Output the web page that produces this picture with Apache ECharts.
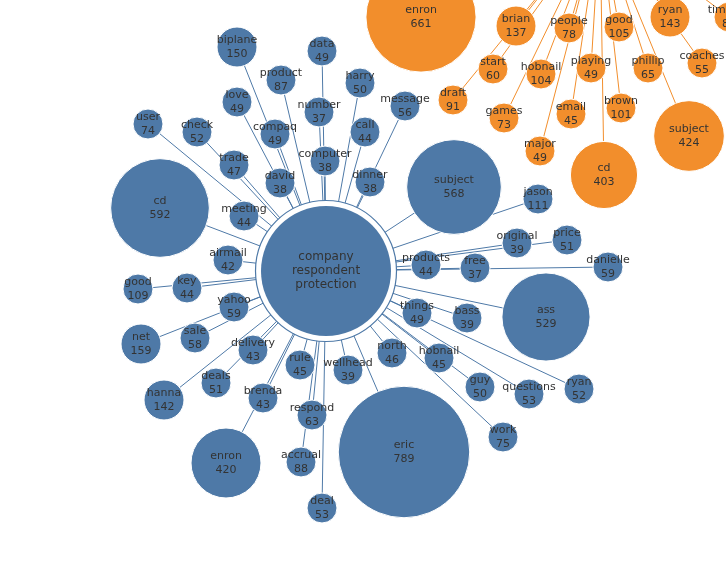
<!DOCTYPE html>
<html>
<head>
<meta charset="utf-8">
<script src="https://cdn.jsdelivr.net/npm/echarts@6/dist/echarts.min.js"></script>
<style>
html, body { margin: 0; padding: 0; background: #fff; }
#main { width: 726px; height: 578px; }
</style>
</head>
<body>
<div id="main"></div>
<script>
// two term clusters, each word linked to its hub
var blueHub = 'company\nrespondent\nprotection';
var blueWords = ['biplane', 'data', 'product', 'harry', 'love', 'number', 'message', 'user', 'check', 'compaq',
	'call', 'trade', 'computer', 'david', 'dinner', 'cd', 'meeting', 'subject', 'jason', 'airmail',
	'original', 'price', 'products', 'free', 'danielle', 'good', 'key', 'yahoo', 'ass', 'things',
	'bass', 'net', 'sale', 'delivery', 'rule', 'wellhead', 'north', 'hobnail', 'deals', 'hanna',
	'brenda', 'respond', 'guy', 'questions', 'ryan', 'eric', 'enron', 'accrual', 'work', 'deal'];
var blueCounts = [150, 49, 87, 50, 49, 37, 56, 74, 52, 49,
	44, 47, 38, 38, 38, 592, 44, 568, 111, 42,
	39, 51, 44, 37, 59, 109, 44, 59, 529, 49,
	39, 159, 58, 43, 45, 39, 46, 45, 51, 142,
	43, 63, 50, 53, 52, 789, 420, 88, 75, 53];

var orangeWords = ['enron', 'brian', 'people', 'good', 'ryan', 'timothy', 'start', 'hobnail', 'playing', 'phillip',
	'coaches', 'draft', 'games', 'email', 'brown', 'major', 'cd', 'subject'];
var orangeCounts = [661, 137, 78, 105, 143, 85, 60, 104, 49, 65,
	55, 91, 73, 45, 101, 49, 403, 424];

// layout (pixel positions of the node centres)
var blueHubPos = [326, 271];
var bluePos = [[237, 47], [322, 51], [281, 80], [360, 83], [237, 102], [319, 112], [405, 106], [148, 124], [197, 132], [275, 134],
	[365, 132], [234, 165], [325, 161], [280, 183], [370, 182], [160, 208], [244, 216], [454, 187], [538, 199], [228, 260],
	[517, 243], [567, 240], [426, 265], [475, 268], [608, 267], [138, 289], [187, 288], [234, 307], [546, 317], [417, 313],
	[467, 318], [141, 344], [195, 338], [253, 350], [300, 365], [348, 370], [392, 353], [439, 358], [216, 383], [164, 400],
	[263, 398], [312, 415], [480, 387], [529, 394], [579, 389], [404, 452], [226, 463], [301, 462], [503, 437], [322, 508]];
var orangeHubPos = [600, -80];
var orangePos = [[421, 17], [516, 26], [569, 28], [619, 27], [670, 17], [729, 17], [493, 69], [541, 74], [591, 68], [648, 68],
	[702, 63], [453, 100], [504, 118], [571, 114], [621, 108], [540, 151], [604, 175], [689, 136]];

var BLUE = '#4e79a7';
var ORANGE = '#f28e2c';

function nodeSize(v) {
	if (v < 120) return 30;
	return Math.max(40, v / 6);
}

var nodes = [];
var links = [];

function addCluster(key, hubName, hubPos, words, counts, pos, color) {
	// outer ring of the hub
	nodes.push({
		id: key + '_ring', name: '', value: hubPos, symbolSize: 141,
		itemStyle: { color: '#fff', borderColor: color, borderWidth: 1.2 },
		label: { show: false }
	});
	var hubIndex = nodes.length;
	nodes.push({
		id: key + '_hub', name: hubName, value: hubPos, symbolSize: 130, hub: true,
		itemStyle: { color: color, borderWidth: 0 },
		label: { fontSize: 12, lineHeight: 14 }
	});
	for (var i = 0; i < words.length; i++) {
		nodes.push({
			id: key + '_' + i, name: words[i], value: pos[i], count: counts[i],
			symbolSize: nodeSize(counts[i]),
			itemStyle: { color: color }
		});
		links.push({ source: nodes.length - 1, target: hubIndex, lineStyle: { color: color } });
	}
}

addCluster('o', '', orangeHubPos, orangeWords, orangeCounts, orangePos, ORANGE);
addCluster('b', blueHub, blueHubPos, blueWords, blueCounts, bluePos, BLUE);

var chart = echarts.init(document.getElementById('main'));
chart.setOption({
	animation: false,
	grid: { left: 0, right: 0, top: 0, bottom: 0 },
	xAxis: { type: 'value', min: 0, max: 726, show: false },
	yAxis: { type: 'value', min: 0, max: 578, inverse: true, show: false },
	series: [{
		type: 'graph',
		coordinateSystem: 'cartesian2d',
		symbol: 'circle',
		data: nodes,
		links: links,
		itemStyle: { borderColor: '#fff', borderWidth: 1 },
		lineStyle: { width: 1, opacity: 1, curveness: 0 },
		label: {
			show: true,
			position: 'inside',
			color: '#333',
			fontFamily: 'DejaVu Sans',
			fontSize: 11,
			lineHeight: 14,
			formatter: function (p) {
				if (p.data.hub) return p.data.name;
				return p.data.name + '\n' + p.data.count;
			}
		},
		emphasis: { disabled: true }
	}]
});
</script>
</body>
</html>
